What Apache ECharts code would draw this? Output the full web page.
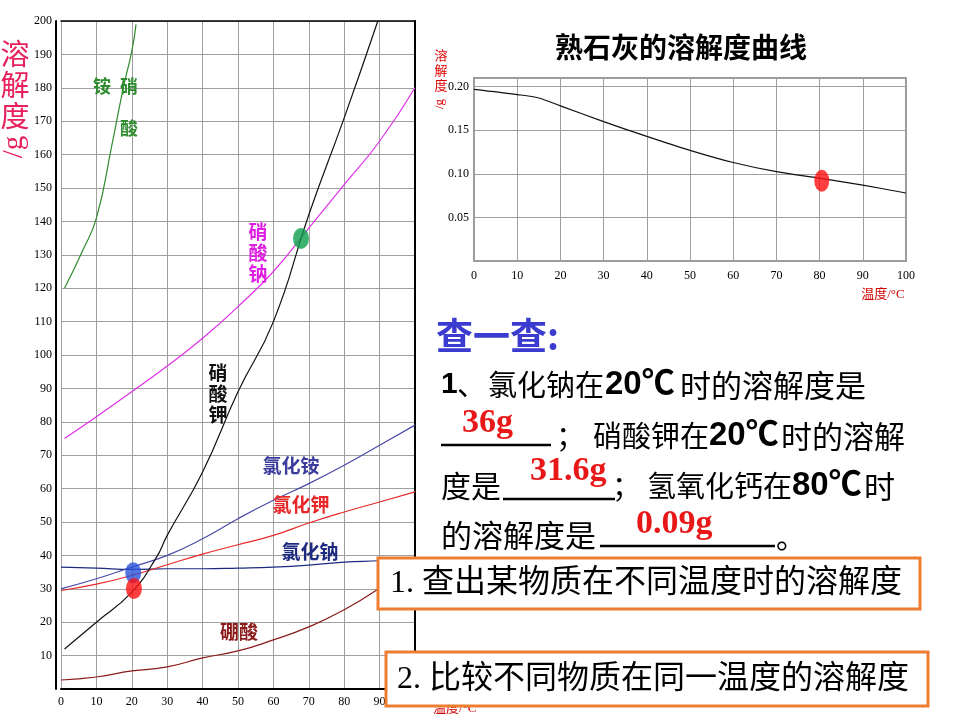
<!DOCTYPE html>
<html>
<head>
<meta charset="utf-8">
<script src="https://cdn.jsdelivr.net/npm/echarts@6/dist/echarts.min.js"></script>
<style>
  html, body { margin: 0; padding: 0; background: #fff; }
  #main { width: 960px; height: 720px; }
</style>
</head>
<body>
<div id="main"></div>
<script>
// 左图：几种物质的溶解度曲线 (温度°C, 溶解度g)
const nh4no3 = [[1, 120], [6, 131], [10, 141], [14.4, 163], [17.6, 180], [20, 191], [21.2, 199]];
const nano3 = [[1, 75], [10, 81.5], [20, 89], [30, 96.7], [40, 105], [50, 114.5], [60, 125], [70, 138], [80, 151], [90, 164], [100, 180]];
const kno3 = [[1, 12], [10, 20], [20, 29], [27, 39.5], [30, 46], [40, 65], [50, 89], [60, 110], [70, 142], [80, 171], [89.5, 200]];
const nh4cl = [[0, 30], [10, 33], [20, 36.5], [30, 40], [40, 45], [50, 51], [60, 56.5], [70, 61.5], [80, 67], [90, 73], [100, 79]];
const kcl = [[0, 29.5], [10, 31.4], [20, 34], [30, 37.2], [40, 40.4], [50, 43.2], [60, 46], [70, 49.7], [80, 53], [90, 56], [100, 59]];
const nacl = [[0, 36.5], [10, 36.2], [20, 35.8], [30, 36], [40, 36], [50, 36.2], [60, 36.5], [70, 37.1], [80, 38], [90, 38.4], [100, 39]];
const h3bo3 = [[0, 2.7], [10, 3.6], [20, 5.4], [30, 6.6], [40, 9.3], [50, 11.4], [60, 14.7], [70, 18.6], [80, 23.7], [90, 30.2], [100, 38]];
// 标记的点
const nacl20 = [[20.4, 34.8]];
const kno320 = [[20.6, 30.1]];
const crossPoint = [[67.8, 134.9]];

// 右图：熟石灰的溶解度曲线
const caoh2 = [[0, 0.197], [10, 0.191], [15, 0.187], [20, 0.178], [30, 0.16], [40, 0.143], [50, 0.127], [60, 0.113], [70, 0.1025], [80, 0.095], [90, 0.087], [100, 0.078]];
const caoh280 = [[80.5, 0.092]];

const serif = '"Liberation Serif", "Noto Sans CJK SC", serif';
const cjk = '"Noto Sans CJK SC", sans-serif';
const bsans = '"Liberation Sans", "Noto Sans CJK SC", sans-serif';

const chart = echarts.init(document.getElementById('main'));

const shadow = { shadowColor: 'rgba(0,0,0,0.35)', shadowOffsetX: 1, shadowOffsetY: 1, shadowBlur: 1 };

// 文字元素
function txt(text, x, y, size, color, o) {
  o = o || {};
  const el = {
    type: 'text', z: o.z || 50,
    style: Object.assign({
      text: text, x: 0, y: 0, fill: color,
      font: (o.weight || 'normal') + ' ' + size + 'px ' + (o.family || cjk),
      textAlign: o.align || 'left', textVerticalAlign: 'middle'
    }, o.style || {}),
    x: x, y: y
  };
  if (o.rotation) el.rotation = o.rotation;
  return el;
}

function line(data, color, w) {
  return {
    type: 'line', xAxisIndex: 0, yAxisIndex: 0, data: data, smooth: true,
    showSymbol: false, lineStyle: { color: color, width: w || 1.2 }
  };
}
function dot(data, color, size, xi, yi) {
  return {
    type: 'scatter', xAxisIndex: xi || 0, yAxisIndex: yi || 0, data: data,
    symbolSize: size, itemStyle: { color: color }, z: 5
  };
}
function uline(x1, x2, y) {
  return { type: 'line', z: 50, shape: { x1: x1, y1: y, x2: x2, y2: y }, style: { stroke: '#000', lineWidth: 2.5 } };
}

const grey = '#a0a0a0';

chart.setOption({
  animation: false,
  backgroundColor: '#fff',
  grid: [
    { left: 61, right: 545, top: 21, bottom: 31 },
    { left: 474, right: 54, top: 78, bottom: 459, show: true, borderColor: '#999', borderWidth: 2 }
  ],
  xAxis: [
    {
      gridIndex: 0, type: 'value', min: 0, max: 100, interval: 10,
      axisLine: { onZero: false, lineStyle: { color: '#000', width: 2 } },
      axisTick: { show: false },
      axisLabel: { color: '#000', fontFamily: serif, fontSize: 12, margin: 7 },
      splitLine: { lineStyle: { color: grey, width: 1 } }
    },
    {
      gridIndex: 0, type: 'value', min: 0, max: 100, position: 'top',
      axisLine: { onZero: false, lineStyle: { color: '#000', width: 1.5 } },
      axisTick: { show: false }, axisLabel: { show: false }, splitLine: { show: false }
    },
    {
      gridIndex: 1, type: 'value', min: 0, max: 100, interval: 10,
      axisLine: { show: false }, axisTick: { show: false },
      axisLabel: { color: '#000', fontFamily: serif, fontSize: 12, margin: 9 },
      splitLine: { lineStyle: { color: grey, width: 1 } }
    }
  ],
  yAxis: [
    {
      gridIndex: 0, type: 'value', min: 0, max: 200, interval: 10, offset: 5,
      axisLine: { show: true, onZero: false, lineStyle: { color: '#000', width: 2 } },
      axisTick: { show: false },
      axisLabel: { color: '#000', fontFamily: serif, fontSize: 12, margin: 4,
        formatter: v => v === 0 ? '' : String(v) },
      splitLine: { lineStyle: { color: grey, width: 1 } }
    },
    {
      gridIndex: 0, type: 'value', min: 0, max: 200, position: 'right',
      axisLine: { show: true, onZero: false, lineStyle: { color: '#000', width: 2 } },
      axisTick: { show: false }, axisLabel: { show: false }, splitLine: { show: false }
    },
    {
      gridIndex: 1, type: 'value', min: 0, max: 0.21, interval: 0.05,
      axisLine: { show: false }, axisTick: { show: false },
      axisLabel: { color: '#000', fontFamily: serif, fontSize: 12, margin: 5,
        formatter: v => (v === 0 || v > 0.205) ? '' : v.toFixed(2) },
      splitLine: { lineStyle: { color: grey, width: 1 } }
    }
  ],
  series: [
    line(h3bo3, '#8b1a1a'),
    line(nacl, '#1c2a80'),
    line(kcl, '#e82828'),
    line(nh4cl, '#4a4aa8'),
    line(nano3, '#e030e8'),
    line(kno3, '#111111'),
    line(nh4no3, '#2e8b2e'),
    dot(nacl20, '#2a52d8', [16, 21]),
    dot(kno320, '#ff1010', [16, 21]),
    dot(crossPoint, '#0aa04a', [16, 21]),
    {
      type: 'line', xAxisIndex: 2, yAxisIndex: 2, data: caoh2, smooth: 0.3,
      showSymbol: false, lineStyle: { color: '#111', width: 1.2 }
    },
    dot(caoh280, '#ff1010', [15, 22], 2, 2)
  ],
  graphic: [
    // 左图纵轴名
    txt('溶\n解\n度', 15, 85, 29, '#e8205e', { align: 'center', style: { lineHeight: 31 } }),
    txt('/g', 14, 147, 29, '#e8205e', { family: serif, align: 'center', rotation: Math.PI / 2 }),
    // 曲线名称
    txt('铵', 102, 86, 18, '#2e8b2e', { weight: 'bold', align: 'center' }),
    txt('硝', 129, 86, 18, '#2e8b2e', { weight: 'bold', align: 'center' }),
    txt('酸', 129, 128, 18, '#2e8b2e', { weight: 'bold', align: 'center' }),
    txt('硝\n酸\n钠', 258, 253, 19, '#e020e0', { weight: 'bold', align: 'center', style: { lineHeight: 21 } }),
    txt('硝\n酸\n钾', 218, 394, 19, '#111', { weight: 'bold', align: 'center', style: { lineHeight: 21 } }),
    txt('氯化铵', 291, 466, 19, '#3c3c9c', { weight: 'bold', align: 'center' }),
    txt('氯化钾', 301, 505, 19, '#e82828', { weight: 'bold', align: 'center' }),
    txt('氯化钠', 310, 552, 19, '#1c2a80', { weight: 'bold', align: 'center' }),
    txt('硼酸', 239, 632, 19, '#8b1a1a', { weight: 'bold', align: 'center' }),
    txt('温度/°C', 433, 709, 13, '#d00000', { family: serif }),
    // 右图标题与轴名
    txt('熟石灰的溶解度曲线', 681, 47, 28, '#000', { weight: 'bold', align: 'center', style: shadow }),
    txt('溶\n解\n度', 441, 70, 13, '#e00000', { align: 'center', style: { lineHeight: 15 } }),
    txt('/g', 440, 104, 13, '#e00000', { family: serif, align: 'center', rotation: Math.PI / 2 }),
    txt('温度/°C', 883, 295, 13, '#d00000', { family: serif, align: 'center' }),
    // 查一查
    txt('查一查:', 436, 336, 37, '#3b3bd0', { weight: 'bold', style: shadow }),
    // 第一行
    txt('1', 441, 385, 30, '#000', { weight: 'bold', family: bsans }),
    txt('、', 457, 385, 29, '#000', { style: shadow }),
    txt('氯化钠在', 488, 385, 29, '#000', { style: shadow }),
    txt('20℃', 605, 385, 33, '#000', { weight: 'bold', family: bsans }),
    txt('时的溶解度是', 680, 385, 31, '#000', { style: shadow }),
    // 第二行
    uline(441, 551, 445),
    txt('36g', 462, 423, 34, '#e81818', { weight: 'bold', family: serif, style: shadow }),
    txt('；', 556, 436, 29, '#000'),
    txt('硝酸钾在', 593, 436, 29, '#000', { style: shadow }),
    txt('20℃', 709, 436, 33, '#000', { weight: 'bold', family: bsans }),
    txt('时的溶解', 781, 436, 31, '#000', { style: shadow }),
    // 第三行
    txt('度是', 441, 486, 30, '#000', { style: shadow }),
    uline(503, 615, 499),
    txt('31.6g', 530, 471, 34, '#e81818', { weight: 'bold', family: serif, style: shadow }),
    txt('；', 612, 486, 29, '#000'),
    txt('氢氧化钙在', 647, 486, 29, '#000', { style: shadow }),
    txt('80℃', 792, 486, 33, '#000', { weight: 'bold', family: bsans }),
    txt('时', 864, 486, 31, '#000', { style: shadow }),
    // 第四行
    txt('的溶解度是', 441, 535, 31, '#000', { style: shadow }),
    uline(600, 775, 546),
    txt('0.09g', 636, 524, 34, '#e81818', { weight: 'bold', family: serif, style: shadow }),
    txt('。', 776, 537, 30, '#000'),
    // 橙色方框
    { type: 'rect', z: 100, shape: { x: 378, y: 558, width: 542, height: 51 }, style: { fill: '#fff', stroke: '#ed7d31', lineWidth: 3 } },
    txt('1. 查出某物质在不同温度时的溶解度', 390, 584, 32, '#000', { family: serif, z: 101, style: shadow }),
    { type: 'rect', z: 100, shape: { x: 386, y: 652, width: 542, height: 54 }, style: { fill: '#fff', stroke: '#ed7d31', lineWidth: 3 } },
    txt('2. 比较不同物质在同一温度的溶解度', 397, 680, 32, '#000', { family: serif, z: 101, style: shadow })
  ]
});
</script>
</body>
</html>
